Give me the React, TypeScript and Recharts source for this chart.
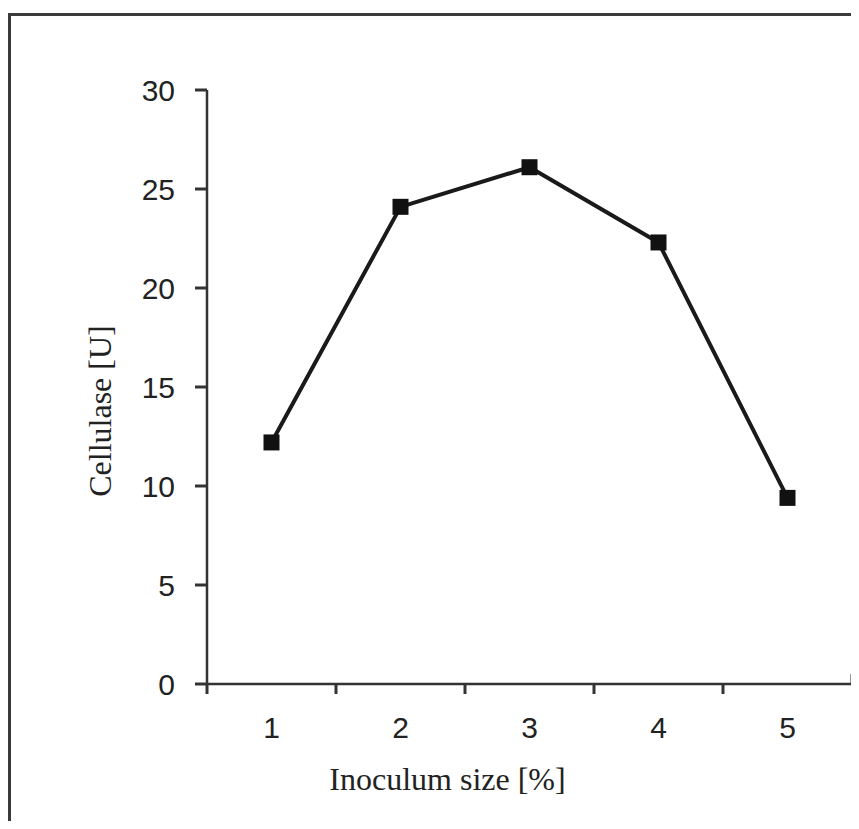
import React from 'react';
import { LineChart, Line, XAxis, YAxis, ReferenceLine } from 'recharts';

const inoculumSizes = [1, 2, 3, 4, 5];
const cellulase = [12.2, 24.1, 26.1, 22.3, 9.4];
const yTicks = [0, 5, 10, 15, 20, 25, 30];
const boundaryTicks = [0.5, 1.5, 2.5, 3.5, 4.5];

const data = inoculumSizes.map((x, i) => ({ x, cellulase: cellulase[i] }));

const AXIS = '#333';
const INK = '#1a1a1a';
const SANS = '"Liberation Sans", Arial, sans-serif';
const SERIF = '"Liberation Serif", "Times New Roman", serif';

const SquareDot = (props: any) => {
  const { cx, cy } = props;
  if (cx == null || cy == null) return null;
  return <rect x={cx - 8} y={cy - 8} width={16} height={16} fill="#111" />;
};

export default function App() {
  return (
    <div style={{ position: 'relative', width: 859, height: 829, margin: -8, overflow: 'hidden', background: '#fff' }}>
      <div
        style={{
          position: 'absolute',
          left: 8,
          top: 13,
          right: -20,
          bottom: 2,
          border: '3px solid #3a3a3a',
          borderRight: 'none',
        }}
      />
      <div style={{ position: 'absolute', left: 0, top: 0 }}>
        <LineChart width={859} height={829} data={data} margin={{ top: 90, right: 7, left: 0, bottom: 85 }}>
          <XAxis
            xAxisId="a"
            dataKey="x"
            type="number"
            domain={[0.5, 5.5]}
            ticks={boundaryTicks}
            tickFormatter={() => ''}
            height={1}
            tickSize={10}
            axisLine={{ stroke: AXIS, strokeWidth: 2.5 }}
            tickLine={{ stroke: AXIS, strokeWidth: 3 }}
          />
          <XAxis
            xAxisId="b"
            dataKey="x"
            type="number"
            domain={[0.5, 5.5]}
            ticks={inoculumSizes}
            height={59}
            tickSize={10}
            tickMargin={22}
            axisLine={false}
            tickLine={false}
            tick={{ fill: '#222', fontSize: 30, fontFamily: SANS }}
            label={{
              value: 'Inoculum size [%]',
              position: 'bottom',
              offset: 23,
              dx: -82,
              fill: '#222',
              fontSize: 32,
              fontFamily: SERIF,
            }}
          />
          <YAxis
            domain={[0, 30]}
            ticks={yTicks}
            width={207}
            tickSize={12}
            tickMargin={20}
            axisLine={{ stroke: AXIS, strokeWidth: 2.5 }}
            tickLine={{ stroke: AXIS, strokeWidth: 3 }}
            tick={{ fill: '#222', fontSize: 30, fontFamily: SANS }}
            label={{
              value: 'Cellulase [U]',
              angle: -90,
              position: 'center',
              dx: -4,
              dy: 24,
              fill: '#222',
              fontSize: 32,
              fontFamily: SERIF,
            }}
          />
          <ReferenceLine
            xAxisId="a"
            segment={[{ x: 5.5, y: 0 }, { x: 5.5, y: 0.5 }]}
            stroke={AXIS}
            strokeWidth={3}
            ifOverflow="visible"
          />
          <Line
            xAxisId="b"
            type="linear"
            dataKey="cellulase"
            stroke={INK}
            strokeWidth={4}
            dot={<SquareDot />}
            activeDot={false}
            isAnimationActive={false}
          />
        </LineChart>
      </div>
    </div>
  );
}
